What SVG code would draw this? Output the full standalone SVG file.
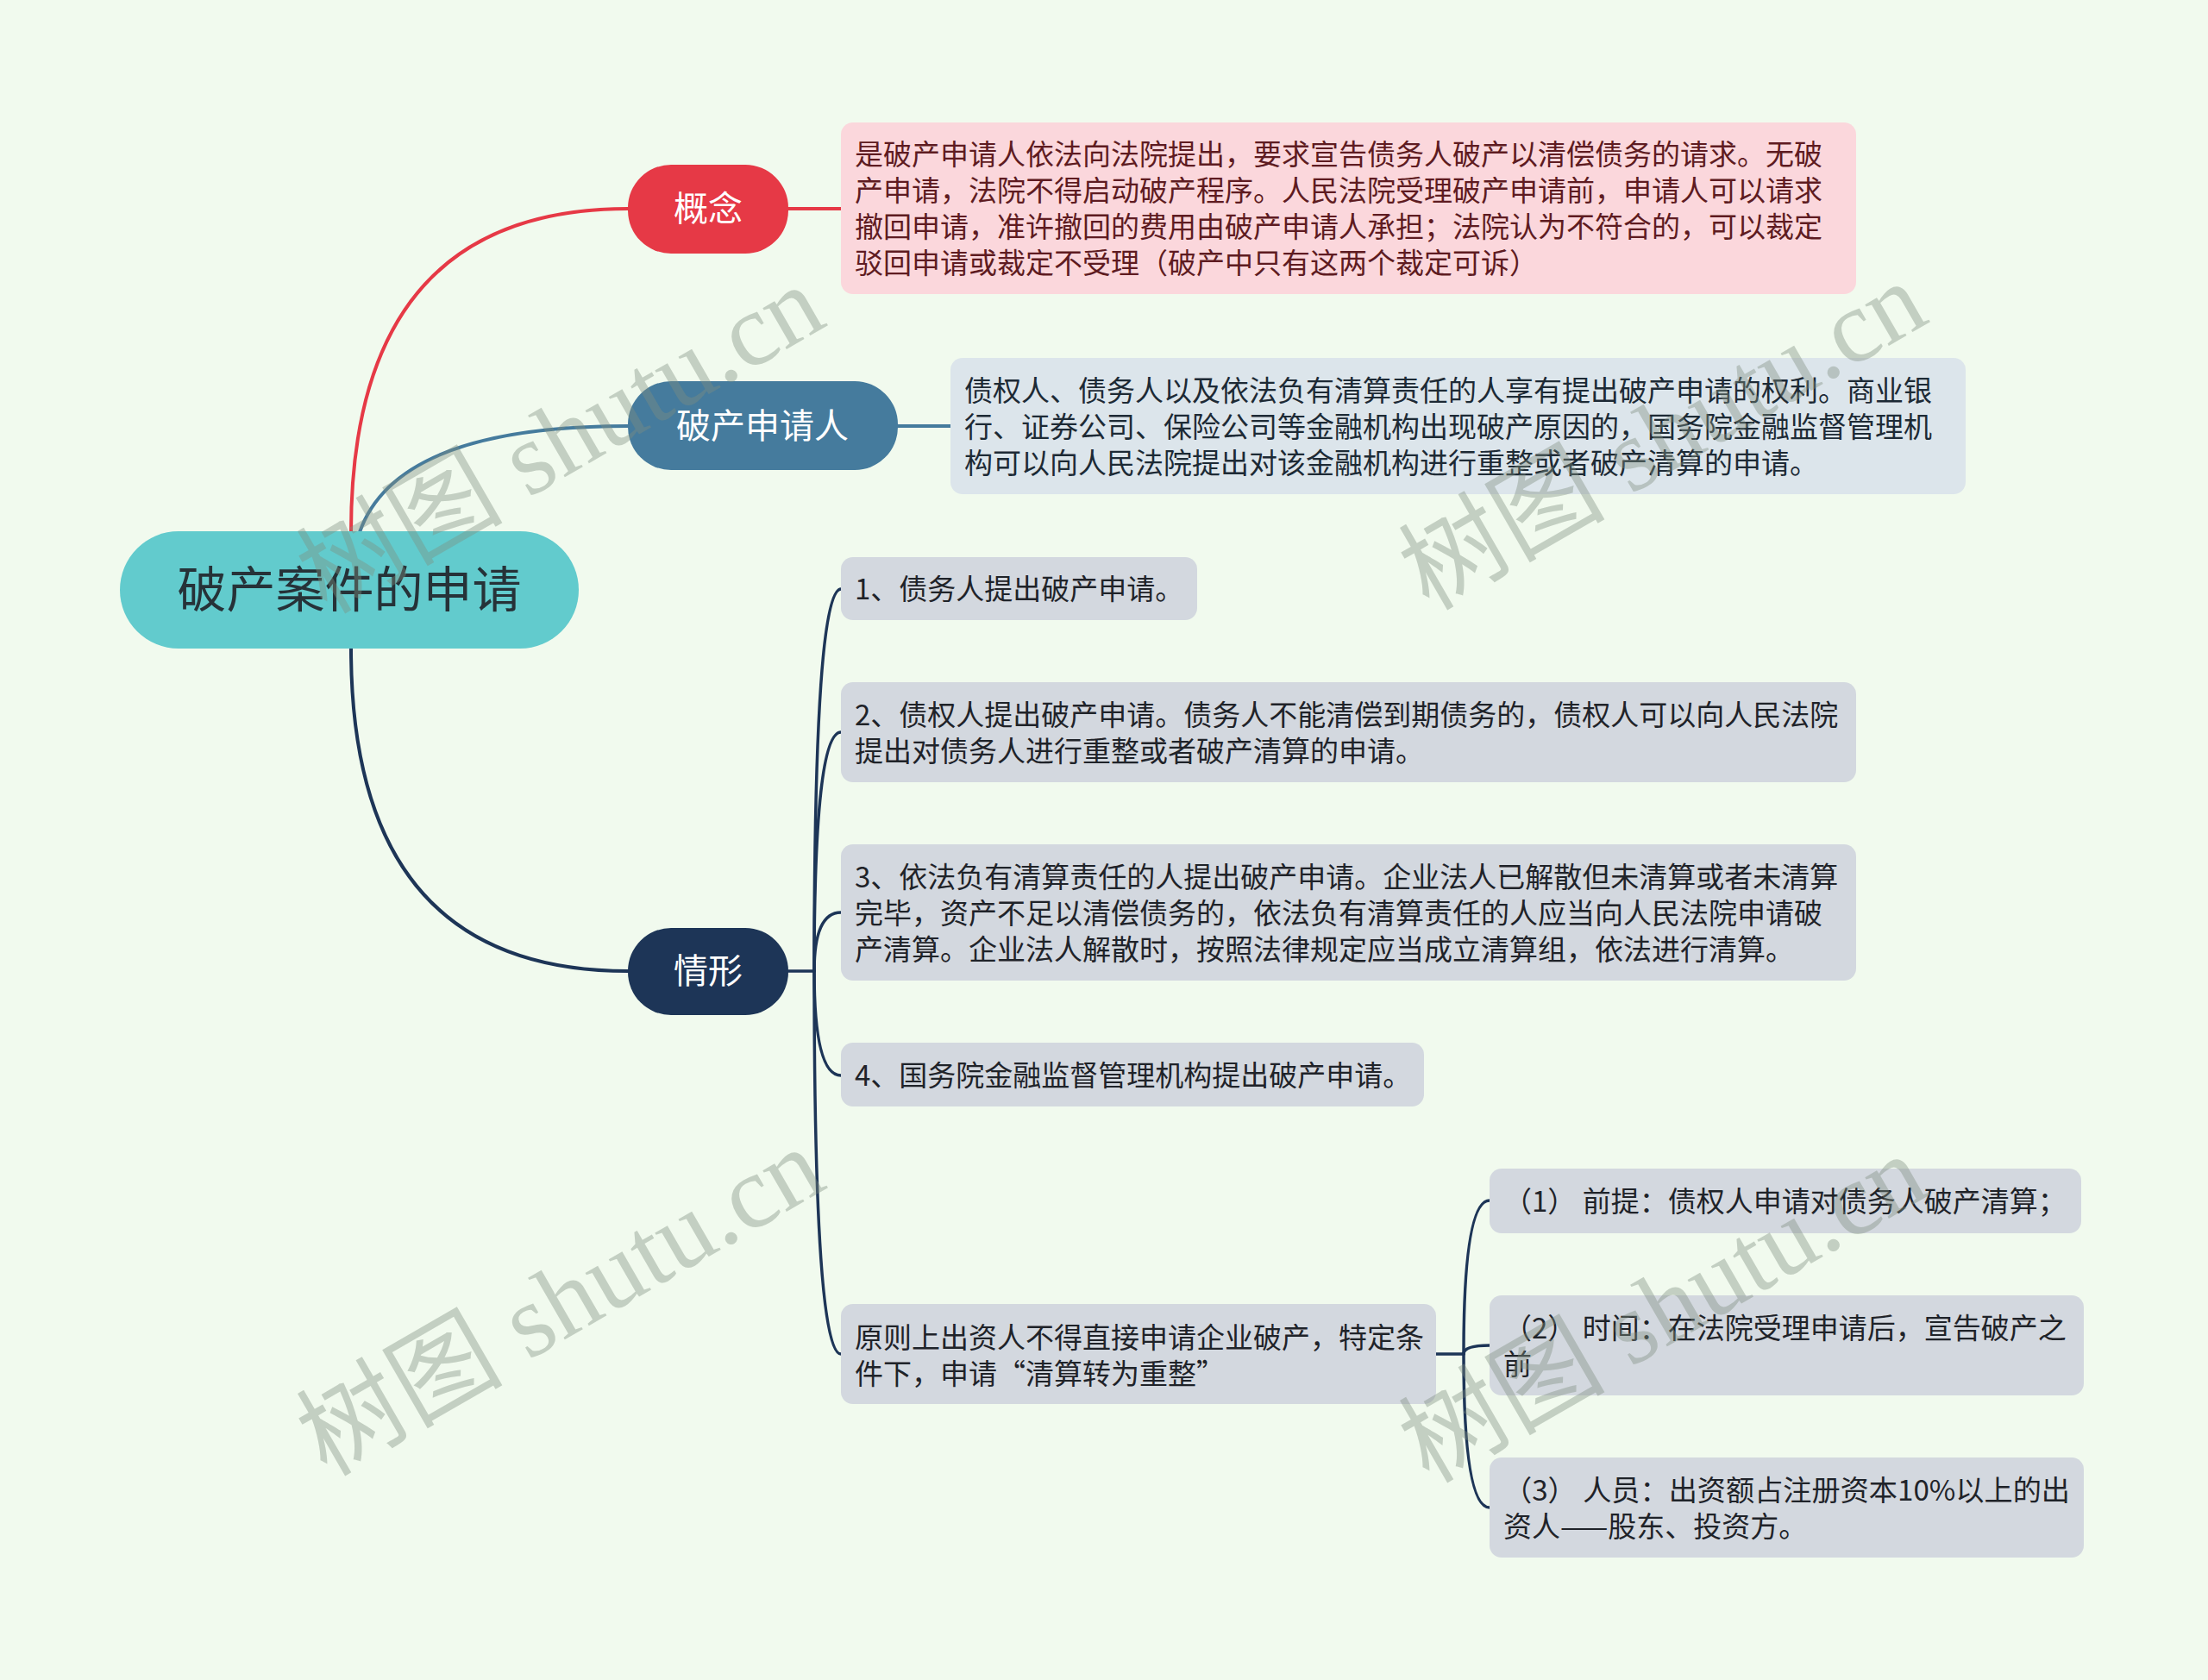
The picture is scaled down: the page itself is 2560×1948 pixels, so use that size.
<svg xmlns="http://www.w3.org/2000/svg" width="2560" height="1948" viewBox="0 0 2560 1948">
<style>
text{font-family:"Noto Sans CJK SC","Noto Sans",sans-serif}
.topic{font-size:40px;fill:#ffffff;text-anchor:middle}
.d{font-size:33px}
.pinkt{fill:#5e1b21}
.bluet{fill:#1d2a35}
.grayt{fill:#1f2329}
.pink{fill:#fbd7dc}
.blueb{fill:#dce5eb}
.gray{fill:#d3d8df}
.c{fill:none;stroke-linecap:round}
.wm{font-family:"Liberation Serif","Noto Sans CJK SC",serif;font-size:120px;fill:#7f8f80;fill-opacity:0.4;text-anchor:middle}
</style>
<rect width="2560" height="1948" fill="#f1faee"/>
<g id="connectors">
<path class="c" d="M407 617 Q407 242 728 242" stroke="#e63946" stroke-width="4"/>
<path class="c" d="M914 242 L975 242" stroke="#e63946" stroke-width="4"/>
<path class="c" d="M417 617 Q460 494 728 494" stroke="#457b9d" stroke-width="4"/>
<path class="c" d="M1041 494 L1102 494" stroke="#457b9d" stroke-width="4"/>
<path class="c" d="M407 752 Q407 1126 728 1126" stroke="#1d3557" stroke-width="4"/>
<path class="c" d="M914 1126 L944 1126" stroke="#1d3557" stroke-width="3.5"/>
<path class="c" d="M944 1126 Q944 683 975 683" stroke="#1d3557" stroke-width="3.5"/>
<path class="c" d="M944 1126 Q944 849 975 849" stroke="#1d3557" stroke-width="3.5"/>
<path class="c" d="M944 1126 Q944 1058 975 1058" stroke="#1d3557" stroke-width="3.5"/>
<path class="c" d="M944 1126 Q944 1247 975 1247" stroke="#1d3557" stroke-width="3.5"/>
<path class="c" d="M944 1126 Q944 1570 975 1570" stroke="#1d3557" stroke-width="3.5"/>
<path class="c" d="M1665 1570 L1697 1570" stroke="#1d3557" stroke-width="3.5"/>
<path class="c" d="M1697 1570 Q1697 1392 1727 1392" stroke="#1d3557" stroke-width="3.5"/>
<path class="c" d="M1697 1570 Q1697 1560 1727 1560" stroke="#1d3557" stroke-width="3.5"/>
<path class="c" d="M1697 1570 Q1697 1748 1727 1748" stroke="#1d3557" stroke-width="3.5"/>
</g>
<g id="root">
<rect x="139" y="616" width="532" height="136" rx="68" fill="#62cbcd"/>
<text x="405" y="704" font-size="57" fill="#263238" text-anchor="middle">破产案件的申请</text>
</g>
<g id="gainian">
<rect x="728" y="191" width="186" height="103" rx="50" fill="#e63946"/>
<text class="topic" x="821" y="256">概念</text>
</g>
<g id="gainian-detail">
<rect class="pink" x="975" y="142" width="1177" height="199" rx="14"/>
<text class="d pinkt" x="991" y="191">是破产申请人依法向法院提出，要求宣告债务人破产以清偿债务的请求。无破</text>
<text class="d pinkt" x="991" y="233">产申请，法院不得启动破产程序。人民法院受理破产申请前，申请人可以请求</text>
<text class="d pinkt" x="991" y="275">撤回申请，准许撤回的费用由破产申请人承担；法院认为不符合的，可以裁定</text>
<text class="d pinkt" x="991" y="317">驳回申请或裁定不受理（破产中只有这两个裁定可诉）</text>
</g>
<g id="shenqingren">
<rect x="728" y="442" width="313" height="103" rx="50" fill="#457b9d"/>
<text class="topic" x="884" y="508">破产申请人</text>
</g>
<g id="shenqingren-detail">
<rect class="blueb" x="1102" y="415" width="1177" height="158" rx="14"/>
<text class="d bluet" x="1118" y="465">债权人、债务人以及依法负有清算责任的人享有提出破产申请的权利。商业银</text>
<text class="d bluet" x="1118" y="507">行、证券公司、保险公司等金融机构出现破产原因的，国务院金融监督管理机</text>
<text class="d bluet" x="1118" y="549">构可以向人民法院提出对该金融机构进行重整或者破产清算的申请。</text>
</g>
<g id="qingxing">
<rect x="728" y="1076" width="186" height="101" rx="50" fill="#1d3557"/>
<text class="topic" x="821" y="1140">情形</text>
</g>
<g id="item1">
<rect class="gray" x="975" y="646" width="413" height="73" rx="14"/>
<text class="d grayt" x="991" y="695">1、债务人提出破产申请。</text>
</g>
<g id="item2">
<rect class="gray" x="975" y="791" width="1177" height="116" rx="14"/>
<text class="d grayt" x="991" y="841">2、债权人提出破产申请。债务人不能清偿到期债务的，债权人可以向人民法院</text>
<text class="d grayt" x="991" y="883">提出对债务人进行重整或者破产清算的申请。</text>
</g>
<g id="item3">
<rect class="gray" x="975" y="979" width="1177" height="158" rx="14"/>
<text class="d grayt" x="991" y="1029">3、依法负有清算责任的人提出破产申请。企业法人已解散但未清算或者未清算</text>
<text class="d grayt" x="991" y="1071">完毕，资产不足以清偿债务的，依法负有清算责任的人应当向人民法院申请破</text>
<text class="d grayt" x="991" y="1113">产清算。企业法人解散时，按照法律规定应当成立清算组，依法进行清算。</text>
</g>
<g id="item4">
<rect class="gray" x="975" y="1209" width="676" height="74" rx="14"/>
<text class="d grayt" x="991" y="1259">4、国务院金融监督管理机构提出破产申请。</text>
</g>
<g id="item5">
<rect class="gray" x="975" y="1512" width="690" height="116" rx="14"/>
<text class="d grayt" x="991" y="1563">原则上出资人不得直接申请企业破产，特定条</text>
<text class="d grayt" x="991" y="1605">件下，申请“清算转为重整”</text>
</g>
<g id="sub1">
<rect class="gray" x="1727" y="1355" width="686" height="75" rx="14"/>
<text class="d grayt" x="1743" y="1405">（1） 前提：债权人申请对债务人破产清算；</text>
</g>
<g id="sub2">
<rect class="gray" x="1727" y="1502" width="689" height="116" rx="14"/>
<text class="d grayt" x="1743" y="1552">（2） 时间：在法院受理申请后，宣告破产之</text>
<text class="d grayt" x="1743" y="1594">前</text>
</g>
<g id="sub3">
<rect class="gray" x="1727" y="1690" width="689" height="116" rx="14"/>
<text class="d grayt" x="1743" y="1740" textLength="657" lengthAdjust="spacingAndGlyphs">（3） 人员：出资额占注册资本10%以上的出</text>
<text class="d grayt" x="1743" y="1782">资人——股东、投资方。</text>
</g>
<g id="watermarks">
<text class="wm" transform="translate(650,510) rotate(-30)" x="0" y="40">树图 shutu.cn</text>
<text class="wm" transform="translate(1928,506) rotate(-30)" x="0" y="40">树图 shutu.cn</text>
<text class="wm" transform="translate(650,1510) rotate(-30)" x="0" y="40">树图 shutu.cn</text>
<text class="wm" transform="translate(1928,1518) rotate(-30)" x="0" y="40">树图 shutu.cn</text>
</g>
</svg>
